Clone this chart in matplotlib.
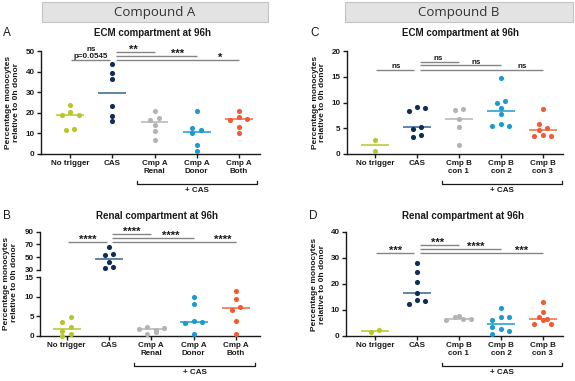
import numpy as np
import matplotlib
matplotlib.use('Agg')
import matplotlib.pyplot as plt
from matplotlib.patches import Rectangle
import matplotlib.transforms as mtransforms

plt.rcParams['font.family'] = ['Liberation Sans', 'DejaVu Sans']

# ---------------- data ----------------
groups_a = ['No trigger', 'CAS', 'Cmp A\nRenal', 'Cmp A\nDonor', 'Cmp A\nBoth']
groups_b = ['No trigger', 'CAS', 'Cmp B\ncon 1', 'Cmp B\ncon 2', 'Cmp B\ncon 3']

# A: ECM compartment, compound A
ecm_a_notrig = [23.8, 20.5, 18.9, 18.9, 12.1, 11.5]
ecm_a_cas    = [43.7, 39.5, 36.2, 23.5, 18.4, 15.9]
ecm_a_renal  = [21.0, 17.7, 16.7, 14.1, 11.2, 6.9]
ecm_a_donor  = [21.0, 12.8, 11.7, 10.0, 4.4, 1.5]
ecm_a_both   = [21.0, 18.0, 16.7, 16.9, 12.9, 10.0]

# B: renal compartment, compound A
ren_a_notrig = [4.8, 3.7, 2.4, 1.4, 0.5, 0.1]
ren_a_cas    = [65.5, 54.5, 53.5, 42.5, 35.2, 32.6]
ren_a_renal  = [1.8, 2.2, 0.6, 1.6, 0.9, 2.0]
ren_a_donor  = [10.05, 8.1, 3.75, 3.5, 3.25, 0.5]
ren_a_both   = [11.5, 9.5, 7.5, 6.65, 3.9, 0.5]

# C: ECM compartment, compound B
ecm_b_notrig = [2.8, 0.6]
ecm_b_cas    = [9.1, 8.9, 8.35, 5.2, 4.8, 3.7, 3.3]
ecm_b_con1   = [8.7, 8.5, 6.7, 5.3, 1.75]
ecm_b_con2   = [14.8, 10.2, 10.0, 8.9, 7.8, 5.9, 5.4, 5.4]
ecm_b_con3   = [8.7, 5.8, 5.1, 4.7, 3.7, 3.5, 3.5]

# D: renal compartment, compound B
ren_b_notrig = [2.3, 1.4]
ren_b_cas    = [28.2, 24.7, 20.8, 16.5, 13.8, 13.6, 12.4]
ren_b_con1   = [7.7, 7.2, 6.4, 6.4, 6.15]
ren_b_con2   = [10.6, 7.2, 7.2, 6.1, 3.3, 2.6, 1.8, 0.7]
ren_b_con3   = [13.2, 9.3, 7.2, 6.5, 6.15, 4.5, 4.7]

# significance labels: No trigger vs CAS, then CAS vs the three treated groups
sig_a = ['ns\np=0.0545', '**', '***', '*']
sig_b = ['****', '****', '****', '****']
sig_c = ['ns', 'ns', 'ns', 'ns']
sig_d = ['***', '***', '****', '***']

# ---------------- styling / layout ----------------
col_notrig = '#b9c62b'
col_cas = '#0e2d57'
col_cas_line = '#35648e'
col_grey = '#b4b4b4'
col_blue = '#1b9bd0'
col_orange = '#f15a32'
colors = [col_notrig, col_cas, col_grey, col_blue, col_orange]
line_colors = [col_notrig, col_cas_line, col_grey, col_blue, '#ee6a44']
bar_col = '#858585'
ink = '#1a1a1a'

# horizontal spread of the dots, in steps of 0.1 category widths
spread = {
    'A': [[0, 0, -2, 2, 1, -1], [0] * 6, [0, 1, -1, 0, 0, 0],
          [0, -1, 1, -1, 0, 0], [0, 0, -2, 2, 0, 0]],
    'B': [[1, -1, 1, -1, 1, -1], [0, 1, -1, 0, 1, -1], [-3, -1, -1, 1, 1, 3],
          [0, 0, 0, 2, -2, 0], [0, 0, 1, -1, 0, 0]],
    'C': [[0, 0], [0, 2, -2, 1, -1, 1, -1], [1, -1, 0, 0, 0],
          [0, 1, -1, 0, 0, 0, -2, 2], [0, -1, 1, -1, 0, -2, 2]],
    'D': [[1, -1], [0, 0, 0, 0, 0, 2, -2], [0, -1, 1, 3, -3],
          [0, 0, 2, -2, -2, 0, 2, -2], [0, 0, -1, 1, 0, -2, 2]],
}

W, H = 575, 381
fig = plt.figure(figsize=(W / 100, H / 100), dpi=100)


def px_axes(l, t, r, b):
    return fig.add_axes([l / W, 1 - b / H, (r - l) / W, (b - t) / H])


def style(ax, xticks=True):
    for s in ['top', 'right']:
        ax.spines[s].set_visible(False)
    for s in ['left', 'bottom']:
        ax.spines[s].set_linewidth(1.0)
        ax.spines[s].set_color(ink)
    ax.tick_params(axis='both', length=3, width=1.0, color=ink, pad=1.5,
                   labelsize=5.8, labelcolor=ink)
    for lab in ax.get_yticklabels() + ax.get_xticklabels():
        lab.set_fontweight('bold')
    if not xticks:
        ax.spines['bottom'].set_visible(False)
        ax.tick_params(axis='x', bottom=False, labelbottom=False)


def dots(ax, x, vals, steps, i):
    xs = x + np.array(steps) * 0.1
    ax.plot(xs, vals, 'o', ms=3.7, color=colors[i], mec='none',
            clip_on=False, zorder=3)
    m = np.median(vals)
    ax.plot([x - 0.33, x + 0.33], [m, m], color=line_colors[i], lw=1.1,
            zorder=2, solid_capstyle='butt')


def sig(ax, x0, x1, y, txt, tx):
    ax.plot([x0, x1], [y, y], color=bar_col, lw=1.0, clip_on=False,
            solid_capstyle='butt')
    if '*' in txt:
        ax.annotate(txt, (tx, y), xytext=(0, -0.6), textcoords='offset points',
                    ha='center', va='baseline', fontsize=8, fontweight='bold',
                    color=ink, annotation_clip=False)
    else:
        ax.annotate(txt, (tx, y), xytext=(0, 1.2), textcoords='offset points',
                    ha='center', va='baseline', fontsize=5.8, fontweight='bold',
                    color=ink, annotation_clip=False, linespacing=1.1)


def sig_set(ax_pair, labels, ys, txs, first_end):
    ax0, ax1 = ax_pair
    sig(ax0, 0.03, first_end, ys[0], labels[0], txs[0])
    for k in range(3):
        sig(ax1, 1.08, 2.0 + k, ys[k + 1], labels[k + 1], txs[k + 1])


def cas_bracket(ax, x0, x1):
    h = ax.get_position().height * H
    tr = mtransforms.blended_transform_factory(ax.transData, ax.transAxes)
    yb = -30 / h
    yc = -27 / h
    ax.plot([x0, x0, x1, x1], [yc, yb, yb, yc], color=ink, lw=0.9,
            transform=tr, clip_on=False)
    ax.text((x0 + x1) / 2, -37 / h, '+ CAS', transform=tr, ha='center',
            va='center', fontsize=5.8, fontweight='bold', color=ink)


def categories(ax, labels):
    ax.set_xticks(range(len(labels)))
    ax.set_xticklabels(labels, fontsize=5.8, fontweight='bold', linespacing=1.15)


def fig_text(x, y, s, **kw):
    fig.text(x / W, 1 - y / H, s, **kw)


# ---------------- header boxes ----------------
for (l, r, name) in [(42, 268, 'Compound A'), (345, 573, 'Compound B')]:
    fig.patches.append(Rectangle((l / W, 1 - 22 / H), (r - l) / W, 20 / H,
                                 transform=fig.transFigure, facecolor='#e3e3e3',
                                 edgecolor='#c4c4c4', lw=0.8))
    fig_text((l + r) / 2, 12.5, name, ha='center', va='center', fontsize=9.5,
             family='Open Sans', color='#333333')

ylab = 'Percentage monocytes\nrelative to 0h donor'
tkw = dict(ha='center', va='center', fontsize=7, fontweight='bold', color=ink)
lkw = dict(ha='center', va='center', fontsize=8.5, color=ink)
ykw = dict(ha='center', va='center', rotation=90, fontsize=6, fontweight='bold',
           color=ink, linespacing=1.15, multialignment='center')

# ---------------- panel A ----------------
axA = px_axes(41, 51, 260, 154)
ecm_a = [ecm_a_notrig, ecm_a_cas, ecm_a_renal, ecm_a_donor, ecm_a_both]
for i, v in enumerate(ecm_a):
    dots(axA, i, v, spread['A'][i], i)
axA.set_xlim(-0.69, 4.5)
axA.set_ylim(0, 50)
axA.set_yticks(range(0, 51, 10))
categories(axA, groups_a)
style(axA)
sig_set((axA, axA), sig_a, [45.6, 49.7, 47.7, 45.6], [0.5, 1.5, 2.55, 3.55], 0.95)
cas_bracket(axA, 1.59, 4.43)
fig_text(153, 33, 'ECM compartment at 96h', **tkw)
fig_text(7, 33, 'A', **lkw)
fig_text(12.5, 102.5, ylab, **ykw)

# ---------------- panel C ----------------
axC = px_axes(347, 51, 563, 154)
ecm_b = [ecm_b_notrig, ecm_b_cas, ecm_b_con1, ecm_b_con2, ecm_b_con3]
for i, v in enumerate(ecm_b):
    dots(axC, i, v, spread['C'][i], i)
axC.set_xlim(-0.667, 4.48)
axC.set_ylim(0, 20)
axC.set_yticks(range(0, 21, 5))
categories(axC, groups_b)
style(axC)
sig_set((axC, axC), sig_c, [16.4, 17.9, 17.2, 16.4], [0.5, 1.5, 2.4, 3.5], 0.93)
cas_bracket(axC, 1.6, 4.45)
fig_text(460, 33, 'ECM compartment at 96h', **tkw)
fig_text(315, 33, 'C', **lkw)
fig_text(319, 102.5, ylab, **ykw)

# ---------------- panel B (broken axis) ----------------
axBt = px_axes(40, 231.7, 260, 270)
axBb = px_axes(40, 277.3, 260, 336)
ren_a = [ren_a_notrig, ren_a_cas, ren_a_renal, ren_a_donor, ren_a_both]
for i, v in enumerate(ren_a):
    target = axBt if i == 1 else axBb
    dots(target, i, v, spread['B'][i], i)
for ax in (axBt, axBb):
    ax.set_xlim(-0.63, 4.57)
axBt.set_ylim(30, 90)
axBt.set_yticks([30, 50, 70, 90])
axBb.set_ylim(0, 15)
axBb.set_yticks([0, 5, 10, 15])
categories(axBb, groups_a)
style(axBt, xticks=False)
style(axBb)
sig_set((axBt, axBt), sig_b, [74.5, 86.0, 80.0, 74.5], [0.5, 1.55, 2.45, 3.7], 0.96)
cas_bracket(axBb, 1.6, 4.45)
fig_text(157, 216, 'Renal compartment at 96h', **tkw)
fig_text(7, 216, 'B', **lkw)
fig_text(10.5, 283, ylab, **ykw)

# ---------------- panel D ----------------
axD = px_axes(346, 232, 563, 336)
ren_b = [ren_b_notrig, ren_b_cas, ren_b_con1, ren_b_con2, ren_b_con3]
for i, v in enumerate(ren_b):
    dots(axD, i, v, spread['D'][i], i)
axD.set_xlim(-0.69, 4.48)
axD.set_ylim(0, 40)
axD.set_yticks(range(0, 41, 10))
categories(axD, groups_b)
style(axD)
sig_set((axD, axD), sig_d, [31.9, 35.0, 33.6, 31.9], [0.5, 1.5, 2.4, 3.5], 0.93)
cas_bracket(axD, 1.6, 4.45)
fig_text(463, 216, 'Renal compartment at 96h', **tkw)
fig_text(313, 216, 'D', **lkw)
fig_text(318.5, 284.5, ylab, **ykw)

fig.savefig('out.png', dpi=100)
